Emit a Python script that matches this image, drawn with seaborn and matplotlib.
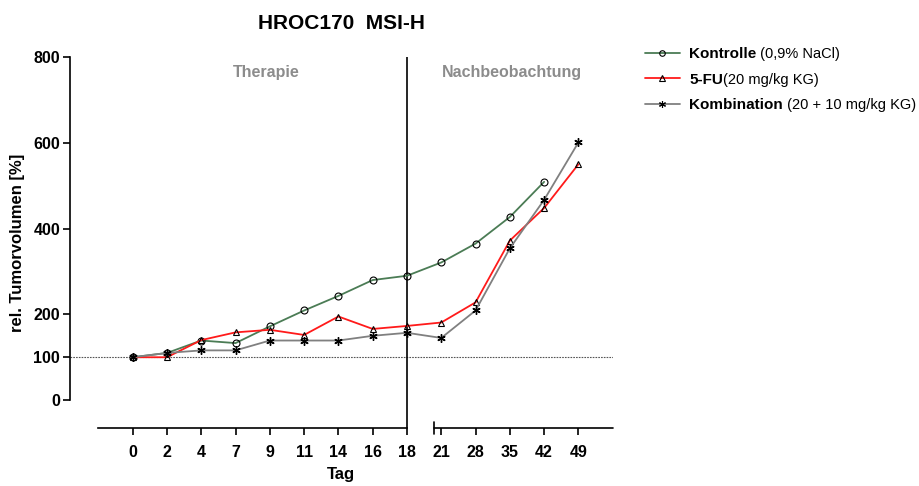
import numpy as np
import pandas as pd
import matplotlib
matplotlib.use("Agg")
import matplotlib.pyplot as plt
from matplotlib.lines import Line2D
import seaborn as sns

# data
days = ["0", "2", "4", "7", "9", "11", "14", "16", "18", "21", "28", "35", "42", "49"]
kontrolle = [100, 110, 139, 133, 172, 209, 243, 280, 290, 321, 365, 427, 509]
fu = [100, 100, 140, 158, 164, 152, 195, 166, 173, 181, 228, 372, 448, 550]
kombination = [100, 110, 116, 116, 139, 139, 139, 150, 157, 145, 209, 354, 467, 601]

series_names = ["Kontrolle", "5-FU", "Kombination"]
series_extra = [" (0,9% NaCl)", "(20 mg/kg KG)", " (20 + 10 mg/kg KG)"]
colors = ["#4b7c55", "#ff1a1a", "#808080"]
markers = ["o", "^", (6, 2, 0)]

rows = []
for name, vals in zip(series_names, [kontrolle, fu, kombination]):
    for i, v in enumerate(vals):
        rows.append({"pos": i, "value": v, "group": name})
df = pd.DataFrame(rows)

sns.set_style("ticks")
plt.rcParams["font.family"] = ["Liberation Sans", "DejaVu Sans"]
plt.rcParams["text.color"] = "black"
plt.rcParams["axes.labelcolor"] = "black"
plt.rcParams["xtick.color"] = "black"
plt.rcParams["ytick.color"] = "black"
plt.rcParams["axes.edgecolor"] = "black"

fig = plt.figure(figsize=(9.2, 4.86), dpi=100)
ax = fig.add_axes([0.076, 0.1193, 0.666 - 0.076, 0.8827 - 0.1193])

ymin = -65
for name, col, mk in zip(series_names, colors, markers):
    sub = df[df["group"] == name]
    star = not isinstance(mk, str)
    sns.lineplot(data=sub, x="pos", y="value", ax=ax, color=col, lw=1.3,
                 marker=mk, markersize=6 if star else 5,
                 markerfacecolor="none", markeredgecolor="black",
                 markeredgewidth=1.0 if star else 0.8, legend=False, zorder=3)

ax.axhline(100, color="#555555", lw=0.8, ls=(0, (1.5, 1)), zorder=1)
ax.axvline(8, color="black", lw=1.2, zorder=2)

ax.set_xlim(-1.83, 14)
ax.set_ylim(ymin, 800)

# axes styling
ax.spines["top"].set_visible(False)
ax.spines["right"].set_visible(False)
ax.spines["left"].set_bounds(0, 800)
ax.spines["left"].set_linewidth(1.2)
ax.spines["bottom"].set_bounds(-1, 8)
ax.spines["bottom"].set_linewidth(1.2)
# second x-axis segment after the break
ax.plot([8.8, 14], [ymin, ymin], color="black", lw=1.2, clip_on=False)
ax.plot([8.8, 8.8], [ymin - 14, ymin + 14], color="black", lw=1.2, clip_on=False)

ax.set_xticks(range(len(days)))
ax.set_xticklabels(days, fontweight="bold", fontsize=11.5)
ax.set_yticks([0, 100, 200, 400, 600, 800])
ax.set_yticklabels(["0", "100", "200", "400", "600", "800"], fontweight="bold", fontsize=11.5)
ax.tick_params(axis="x", length=5, width=1.2, pad=7)
ax.tick_params(axis="y", length=5, width=1.2, pad=2)

ax.set_xlabel("Tag", fontweight="bold", fontsize=12, labelpad=5)
ax.set_ylabel("rel. Tumorvolumen [%]", fontweight="bold", fontsize=12, labelpad=6)
ax.set_title("HROC170  MSI-H", fontweight="bold", fontsize=15, pad=20)

ax.text(3.9, 763, "Therapie", color="#8c8c8c", fontweight="bold", fontsize=11.5,
        ha="center", va="center")
ax.text(11.07, 763, "Nachbeobachtung", color="#8c8c8c", fontweight="bold", fontsize=11.5,
        ha="center", va="center")

handles = []
for col, mk in zip(colors, markers):
    star = not isinstance(mk, str)
    handles.append(Line2D([], [], color=col, lw=1.3, marker=mk,
                          markersize=5 if star else 4,
                          markerfacecolor="none", markeredgecolor="black",
                          markeredgewidth=0.8))
leg = fig.legend(handles, series_names, loc="upper left",
                 bbox_to_anchor=(0.701, 0.903), frameon=False,
                 borderpad=0, borderaxespad=0, handlelength=2.3,
                 handletextpad=0.6, labelspacing=0.75,
                 prop={"weight": "bold", "size": 11})

# regular-weight part of each legend entry, placed right after the bold part
fig.canvas.draw()
renderer = fig.canvas.get_renderer()
inv = fig.transFigure.inverted()
for t, extra in zip(leg.get_texts(), series_extra):
    bb = t.get_window_extent(renderer)
    x0, y0 = inv.transform((bb.x1, bb.y0))
    fig.text(x0, y0, extra, fontsize=10.5, ha="left", va="bottom")

fig.savefig("out.png", dpi=100)
